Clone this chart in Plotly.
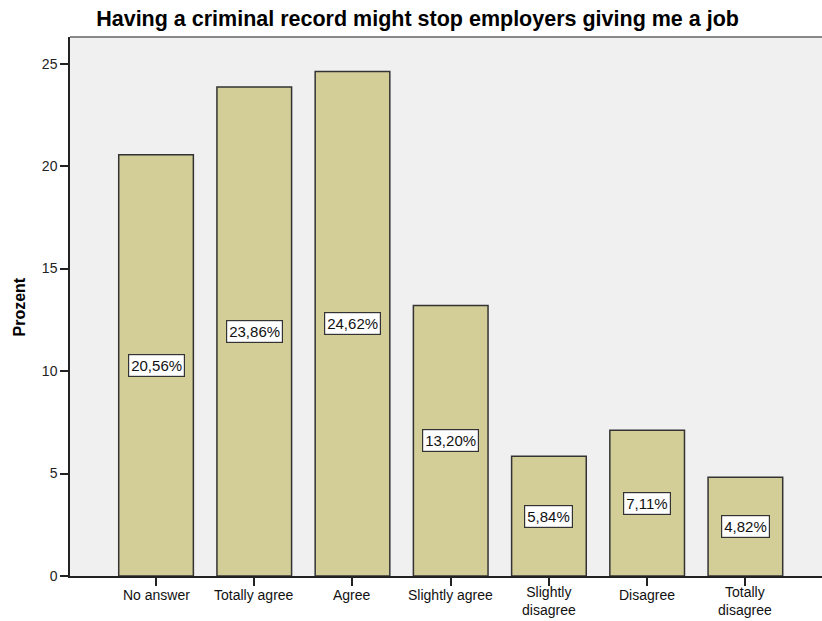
import plotly.graph_objects as go

categories = ["No answer", "Totally agree", "Agree", "Slightly agree",
              "Slightly<br>disagree", "Disagree", "Totally<br>disagree"]
percent = [20.56, 23.86, 24.62, 13.20, 5.84, 7.11, 4.82]
y_ticks = [0, 5, 10, 15, 20, 25]

x_pos = list(range(len(categories)))
FONT = "Liberation Sans, Arial"

fig = go.Figure()
fig.add_trace(go.Bar(
    x=x_pos, y=percent, width=0.76,
    marker=dict(color="#D3CE97", line=dict(color="#333333", width=1.5)),
    hoverinfo="skip",
))

for xi, v in zip(x_pos, percent):
    fig.add_annotation(
        x=xi, y=v / 2, xref="x", yref="y",
        text=f"{v:.2f}%".replace(".", ","),
        showarrow=False, bgcolor="white", bordercolor="#333333",
        borderwidth=1.2, borderpad=2,
        font=dict(family=FONT, size=15, color="#111111"),
    )

# category labels
for xi, lab in zip(x_pos, categories):
    n_lines = lab.count("<br>") + 1
    fig.add_annotation(
        x=xi, y=0, xref="x", yref="paper", text=lab, showarrow=False,
        yanchor="middle", xanchor="center", borderpad=0,
        yshift=-19 if n_lines == 1 else -25,
        font=dict(family=FONT, size=14, color="#111111"),
    )

fig.add_shape(type="line", xref="paper", yref="paper", x0=0, x1=1, y0=1, y1=1,
              line=dict(color="#888888", width=2))

fig.add_annotation(
    text="<b>Prozent</b>", xref="paper", yref="paper", x=-0.0665, y=0.5,
    xanchor="center", yanchor="middle", textangle=-90, showarrow=False,
    font=dict(family=FONT, size=16, color="#000000"),
)

fig.update_layout(
    width=822, height=621,
    margin=dict(l=70, r=0, t=37, b=45, autoexpand=False),
    paper_bgcolor="white", plot_bgcolor="#F0F0F0",
    showlegend=False,
    title=dict(text="<b>Having a criminal record might stop employers giving me a job</b>",
               x=0.508, xanchor="center", y=1 - 18 / 621, yanchor="middle",
               font=dict(family=FONT, size=21.5, color="#000000")),
    font=dict(family=FONT, size=12, color="#222222"),
)
fig.update_xaxes(
    tickmode="array", tickvals=x_pos, showticklabels=False, automargin=False,
    range=[-0.876, 6.78], showgrid=False, zeroline=False,
    showline=True, linecolor="#222222", linewidth=1.5,
    ticks="outside", ticklen=8, tickcolor="#222222", tickwidth=1.5,
)
fig.update_yaxes(
    range=[0, 26.3], tickvals=y_ticks, showgrid=False, zeroline=False, automargin=False,
    showline=True, linecolor="#222222", linewidth=1.5,
    ticks="outside", ticklen=8, tickcolor="#222222", tickwidth=1.5,
    tickfont=dict(family=FONT, size=14, color="#222222"),
)

fig.write_html(
    "out.html",
    config={"displayModeBar": False},
    post_script="document.body.style.margin='0';document.body.style.overflow='hidden';",
)
